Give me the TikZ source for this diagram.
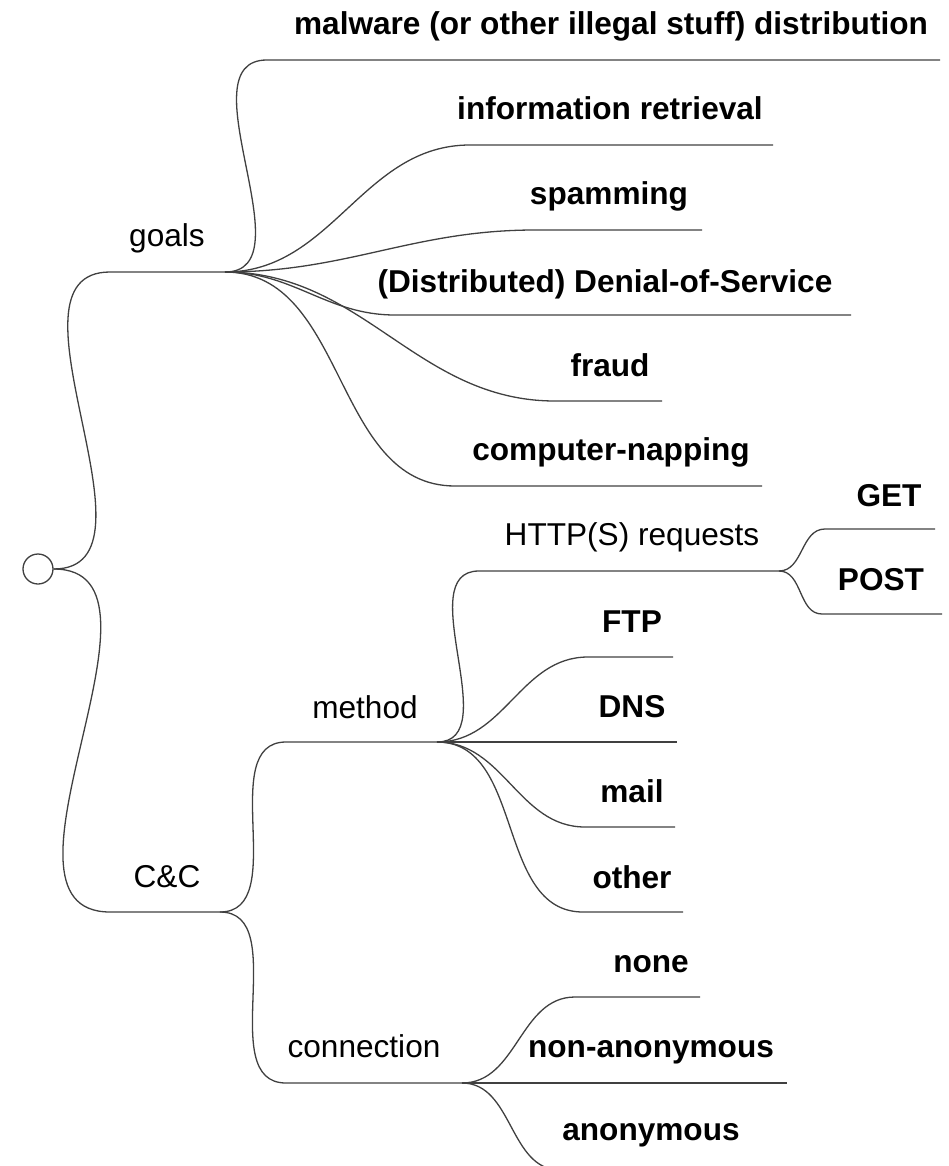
\documentclass[tikz,border=0pt]{standalone}
\usepackage{fontspec}
\setmainfont{Liberation Sans}
\usepackage{tikz}
\tikzset{
  edge/.style={
    draw=black!75,
    line width=1.3pt
  },
  topic/.style={
    anchor=base,
    inner sep=0pt,
    font=\fontsize{31.6}{38}\selectfont
  },
  leaf/.style={
    topic,
    font=\fontsize{31.6}{38}\selectfont\bfseries
  },
  hub/.style={
    circle,
    draw=black!75,
    line width=1.3pt,
    minimum size=30pt,
    inner sep=0pt
  }
}
\begin{document}
\begin{tikzpicture}[x=1pt, y=-1pt]
    \useasboundingbox (0,0) rectangle (948,1166);

    % 根节点
    \node[hub] (root) at (38,569) {};

    % 第一层：goals / C&C
    \node[topic] (goals) at (167,247) {goals};
    \coordinate (goals-w) at (110,272);
    \coordinate (goals-e) at (225,272);
    \draw[edge] (root.east) to[out=0, in=180] (goals-w) -- (goals-e);

    \node[topic] (cc) at (167,887) {C\&C};
    \coordinate (cc-w) at (110,912);
    \coordinate (cc-e) at (220,912);
    \draw[edge] (root.east) to[out=0, in=180] (cc-w) -- (cc-e);

    % goals 的分支
    \node[leaf] (malware) at (611,35) {malware (or other illegal stuff) distribution};
    \coordinate (malware-w) at (267,60);
    \coordinate (malware-e) at (940,60);
    \draw[edge] (goals-e) to[out=0, in=180] (malware-w) -- (malware-e);

    \node[leaf] (info) at (610,120) {information retrieval};
    \coordinate (info-w) at (470,145);
    \coordinate (info-e) at (773,145);
    \draw[edge] (goals-e) to[out=0, in=180] (info-w) -- (info-e);

    \node[leaf] (spam) at (609,205) {spamming};
    \coordinate (spam-w) at (535,230);
    \coordinate (spam-e) at (702,230);
    \draw[edge] (goals-e) to[out=0, in=180] (spam-w) -- (spam-e);

    \node[leaf] (ddos) at (605,292) {(Distributed) Denial-of-Service};
    \coordinate (ddos-w) at (395,315);
    \coordinate (ddos-e) at (851,315);
    \draw[edge] (goals-e) to[out=0, in=180] (ddos-w) -- (ddos-e);

    \node[leaf] (fraud) at (610,376) {fraud};
    \coordinate (fraud-w) at (555,401);
    \coordinate (fraud-e) at (662,401);
    \draw[edge] (goals-e) to[out=0, in=180] (fraud-w) -- (fraud-e);

    \node[leaf] (napping) at (611,460) {computer-napping};
    \coordinate (napping-w) at (455,486);
    \coordinate (napping-e) at (762,486);
    \draw[edge] (goals-e) to[out=0, in=180] (napping-w) -- (napping-e);

    % C&C 的分支
    \node[topic] (method) at (365,718) {method};
    \coordinate (method-w) at (286,742);
    \coordinate (method-e) at (437,742);
    \draw[edge] (cc-e) to[out=0, in=180] (method-w) -- (method-e);

    \node[topic] (conn) at (364,1057) {connection};
    \coordinate (conn-w) at (286,1083);
    \coordinate (conn-e) at (462,1083);
    \draw[edge] (cc-e) to[out=0, in=180] (conn-w) -- (conn-e);

    % method 的分支
    \node[topic] (http) at (632,545) {HTTP(S) requests};
    \coordinate (http-w) at (479,571);
    \coordinate (http-e) at (779,571);
    \draw[edge] (method-e) to[out=0, in=180] (http-w) -- (http-e);

    \node[leaf] (get) at (889,506) {GET};
    \coordinate (get-w) at (825,529);
    \coordinate (get-e) at (935,529);
    \draw[edge] (http-e) to[out=0, in=180] (get-w) -- (get-e);

    \node[leaf] (post) at (881,590) {POST};
    \coordinate (post-w) at (822,614);
    \coordinate (post-e) at (942,614);
    \draw[edge] (http-e) to[out=0, in=180] (post-w) -- (post-e);

    \node[leaf] (ftp) at (632,632) {FTP};
    \coordinate (ftp-w) at (588,657);
    \coordinate (ftp-e) at (673,657);
    \draw[edge] (method-e) to[out=0, in=180] (ftp-w) -- (ftp-e);

    \node[leaf] (dns) at (632,717) {DNS};
    \coordinate (dns-e) at (677,742);
    \draw[edge] (method-e) -- (dns-e);

    \node[leaf] (mail) at (632,802) {mail};
    \coordinate (mail-w) at (585,827);
    \coordinate (mail-e) at (675,827);
    \draw[edge] (method-e) to[out=0, in=180] (mail-w) -- (mail-e);

    \node[leaf] (other) at (632,888) {other};
    \coordinate (other-w) at (583,912);
    \coordinate (other-e) at (683,912);
    \draw[edge] (method-e) to[out=0, in=180] (other-w) -- (other-e);

    % connection 的分支
    \node[leaf] (none) at (651,972) {none};
    \coordinate (none-w) at (575,997);
    \coordinate (none-e) at (700,997);
    \draw[edge] (conn-e) to[out=0, in=180] (none-w) -- (none-e);

    \node[leaf] (nonanon) at (651,1057) {non-anonymous};
    \coordinate (nonanon-e) at (787,1083);
    \draw[edge] (conn-e) -- (nonanon-e);

    \node[leaf] (anon) at (651,1140) {anonymous};
    \coordinate (anon-w) at (560,1170);
    \coordinate (anon-e) at (740,1170);
    \draw[edge] (conn-e) to[out=0, in=180] (anon-w) -- (anon-e);

\end{tikzpicture}
\end{document}
